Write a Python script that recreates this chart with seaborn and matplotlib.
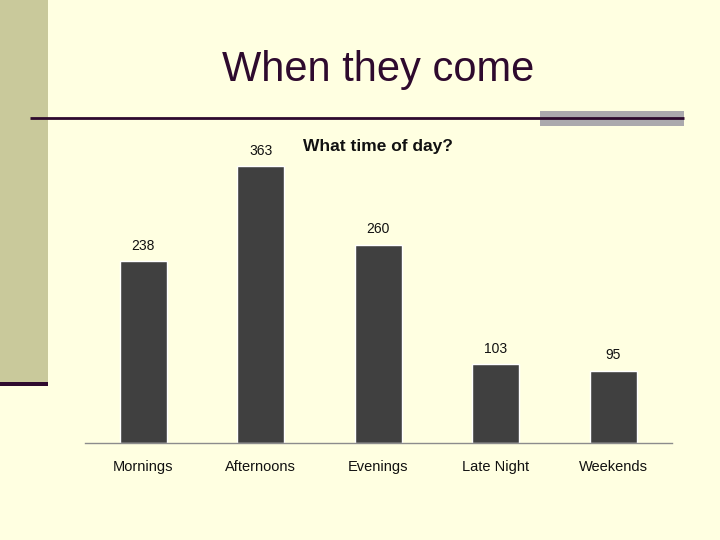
import matplotlib
matplotlib.use("Agg")
import matplotlib.pyplot as plt
import matplotlib.patches as mpatches
import matplotlib.lines as mlines
import seaborn as sns
import pandas as pd

# data
periods = ["Mornings", "Afternoons", "Evenings", "Late Night", "Weekends"]
visits = [238, 363, 260, 103, 95]

slide_title = "When they come"
chart_title = "What time of day?"

BG = "#FFFFE1"
DARK = "#2E0A2E"

sns.set_theme(style="white")
plt.rcParams["font.family"] = ["Liberation Sans", "DejaVu Sans"]

W, H = 720, 540
fig = plt.figure(figsize=(W / 100, H / 100), dpi=100, facecolor=BG)

# slide decorations (pixel boxes converted to figure fraction)
def px_rect(x0, y0, x1, y1, color):
    fig.patches.append(mpatches.Rectangle(
        (x0 / W, 1 - y1 / H), (x1 - x0) / W, (y1 - y0) / H,
        transform=fig.transFigure, facecolor=color, edgecolor="none", zorder=0))

px_rect(0, 0, 48, 382, "#C9C99B")
px_rect(0, 382, 48, 386, DARK)
px_rect(540, 111, 684, 126, "#ABA9AD")
fig.lines.append(mlines.Line2D([30 / W, 684 / W], [1 - 118 / H, 1 - 118 / H],
                               transform=fig.transFigure, color=DARK, lw=2,
                               solid_capstyle="butt"))

fig.text(378 / W, 1 - 70 / H, slide_title, ha="center", va="center",
         fontsize=30, color=DARK)

df = pd.DataFrame({"period": periods, "visits": visits})

ax_l, ax_r, ax_b, ax_t = 84.5, 672, 443, 140
ax = fig.add_axes([ax_l / W, 1 - ax_b / H, (ax_r - ax_l) / W, (ax_b - ax_t) / H])
ax.set_facecolor("none")
sns.barplot(data=df, x="period", y="visits", color="#404040", width=0.4,
            saturation=1, ax=ax)
ax.set_xlim(-0.5, 4.5)
ax.set_ylim(0, (ax_b - ax_t) / ((443 - 166) / 363))
ax.bar_label(ax.containers[0], padding=6, fontsize=10, color="#111111")

ax.set_xlabel("")
ax.set_ylabel("")
ax.set_yticks([])
ax.tick_params(axis="x", length=0, pad=12, labelsize=10.5, labelcolor="#111111")
for side in ["top", "left", "right"]:
    ax.spines[side].set_visible(False)
ax.spines["bottom"].set_color("#8C8C8C")
ax.spines["bottom"].set_linewidth(1)

fig.text(378 / W, 1 - 146 / H, chart_title, ha="center", va="center",
         fontsize=12.5, fontweight="bold", color="#111111")

fig.savefig("out.png", dpi=100, facecolor=BG)
